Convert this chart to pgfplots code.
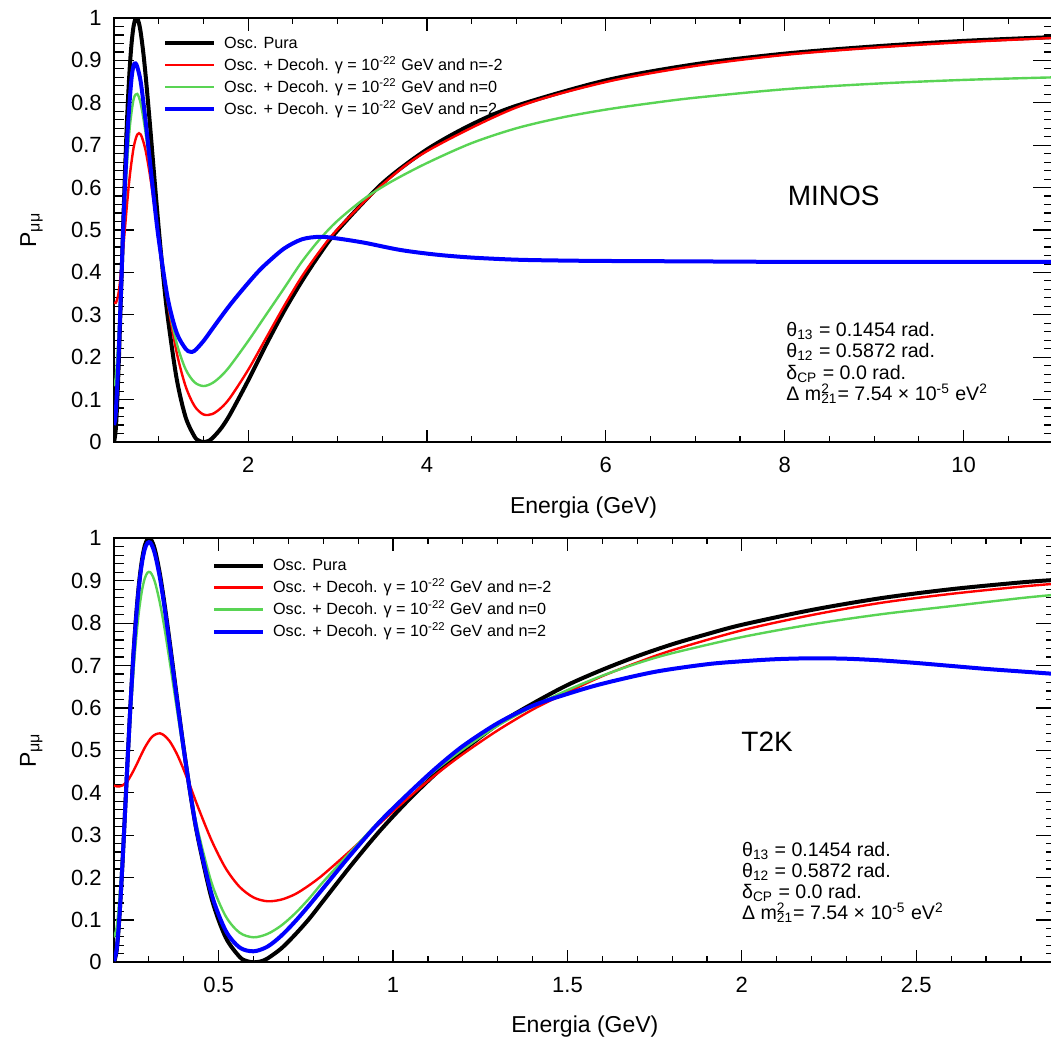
\documentclass[border=0pt]{standalone}
\usepackage{fontspec}
\setmainfont{Liberation Sans}
\usepackage{pgfplots}
\pgfplotsset{compat=1.18}
\definecolor{rootgreen}{RGB}{89,212,84}
\pgfplotsset{rootstyle/.style={
  scale only axis,
  axis line style={line width=0.9pt},
  tick align=inside,
  xtick pos=both, ytick pos=both,
  ymin=0, ymax=1,
  ytick={0,0.1,0.2,0.3,0.4,0.5,0.6,0.7,0.8,0.9,1},
  yticklabels={0,0.1,0.2,0.3,0.4,0.5,0.6,0.7,0.8,0.9,1},
  minor ytick={0,0.02,...,1},
  tick style={line width=0.6pt, black},
  xtick style={/pgfplots/major tick length=6.25pt,/pgfplots/minor tick length=3pt},
  ytick style={/pgfplots/major tick length=10pt,/pgfplots/minor tick length=4.75pt},
  /pgf/number format/assume math mode=true,
  ticklabel style={font=\fontsize{11}{13}\selectfont},
  xticklabel style={anchor=north, inner sep=0pt, yshift=-7.35pt},
  yticklabel style={anchor=east, inner sep=0pt, xshift=-6pt},
  xlabel style={font=\fontsize{11.5}{13}\selectfont, anchor=base, inner sep=0pt},
  ylabel style={font=\fontsize{11.5}{13}\selectfont, anchor=base, inner sep=0pt},
  legend cell align=left,
  legend image code/.code={\draw[#1] (0pt,0pt) -- (24.5pt,0pt);},
  every axis plot/.append style={smooth},
}}
\begin{document}
\begin{tikzpicture}
% ---------------- MINOS ----------------
\begin{axis}[rootstyle,
  at={(57pt,-221pt)}, anchor=south west,
  width=469.5pt, height=212pt,
  xmin=0.5, xmax=11,
  xtick={2,4,6,8,10},
  minor xtick={0.5,1,...,11},
  xlabel={Energia (GeV)},
  ylabel={P\textsubscript{μμ}},
  xlabel style={at={(axis description cs:0.5,-0.1675)}},
  ylabel style={at={(axis description cs:-0.083,0.5)}},
  legend style={at={(0.052,0.963)}, anchor=north west, draw=none, fill=none,
    inner sep=0pt, row sep=2pt, column sep=4pt,
    font=\fontsize{8.1}{9}\selectfont,
    nodes={inner sep=0pt, text height=7pt, text depth=2pt}},
]
\addplot[black, line width=2pt] table {
0.50 0.000
0.52 0.030
0.54 0.113
0.56 0.229
0.58 0.361
0.60 0.494
0.62 0.619
0.64 0.731
0.66 0.823
0.68 0.896
0.70 0.948
0.72 0.982
0.74 0.998
0.76 0.999
0.78 0.987
0.80 0.964
0.83 0.914
0.86 0.850
0.90 0.754
0.95 0.627
1.00 0.504
1.05 0.392
1.10 0.296
1.20 0.150
1.30 0.059
1.40 0.013
1.45 0.003
1.50 0.000
1.55 0.002
1.60 0.009
1.70 0.033
1.80 0.066
2.00 0.145
2.20 0.229
2.40 0.308
2.60 0.379
2.80 0.443
3.00 0.499
3.50 0.610
4.00 0.690
4.50 0.749
5.00 0.793
6.00 0.853
7.00 0.891
8.00 0.916
9.00 0.933
10.0 0.946
11.0 0.955
};
\addlegendentry{Osc. Pura}
\addplot[red, line width=1.2pt] table {
0.50 0.330
0.52 0.328
0.55 0.350
0.58 0.404
0.60 0.449
0.62 0.498
0.65 0.571
0.68 0.634
0.72 0.695
0.76 0.725
0.80 0.725
0.85 0.691
0.90 0.632
0.95 0.558
1.00 0.479
1.10 0.330
1.20 0.212
1.30 0.132
1.40 0.085
1.50 0.065
1.60 0.066
1.70 0.081
1.80 0.105
2.00 0.170
2.20 0.245
2.40 0.320
2.60 0.390
2.80 0.450
3.00 0.502
3.50 0.607
4.00 0.686
5.00 0.789
6.00 0.849
7.00 0.887
8.00 0.913
9.00 0.930
10.0 0.943
11.0 0.953
};
\addlegendentry{Osc. + Decoh. γ = 10\textsuperscript{-22} GeV and n=-2}
\addplot[rootgreen, line width=1.2pt] table {
0.50 0.132
0.52 0.153
0.55 0.247
0.58 0.380
0.60 0.472
0.62 0.559
0.65 0.670
0.68 0.750
0.72 0.809
0.76 0.821
0.80 0.797
0.85 0.734
0.90 0.652
0.95 0.564
1.00 0.479
1.10 0.335
1.20 0.234
1.30 0.172
1.40 0.141
1.50 0.132
1.60 0.139
1.70 0.156
1.80 0.180
2.00 0.238
2.20 0.300
2.40 0.362
2.60 0.425
2.80 0.478
3.00 0.522
3.30 0.574
3.60 0.614
4.00 0.658
4.50 0.705
5.00 0.740
5.50 0.765
6.00 0.784
6.50 0.799
7.00 0.812
8.00 0.832
9.00 0.845
10.0 0.854
11.0 0.860
};
\addlegendentry{Osc. + Decoh. γ = 10\textsuperscript{-22} GeV and n=0}
\addplot[blue, line width=2pt] table {
0.50 0.040
0.52 0.070
0.55 0.196
0.58 0.368
0.60 0.485
0.62 0.592
0.65 0.725
0.68 0.818
0.70 0.865
0.72 0.889
0.74 0.893
0.76 0.885
0.80 0.848
0.85 0.763
0.90 0.665
0.95 0.567
1.00 0.478
1.10 0.340
1.20 0.258
1.30 0.220
1.35 0.213
1.40 0.215
1.50 0.238
1.60 0.267
1.70 0.296
1.80 0.324
1.90 0.350
2.00 0.375
2.10 0.399
2.20 0.420
2.40 0.456
2.60 0.478
2.80 0.484
3.00 0.480
3.30 0.470
3.70 0.453
4.10 0.442
4.50 0.435
5.00 0.430
5.50 0.428
6.00 0.427
7.00 0.426
8.00 0.425
11.0 0.425
};
\addlegendentry{Osc. + Decoh. γ = 10\textsuperscript{-22} GeV and n=2}
\end{axis}
% ---------------- T2K ----------------
\begin{axis}[rootstyle,
  at={(57pt,-481.15pt)}, anchor=south west,
  width=470.9pt, height=212pt,
  xmin=0.2, xmax=2.9,
  xtick={0.5,1,1.5,2,2.5},
  minor xtick={0.2,0.3,...,2.9},
  xlabel={Energia (GeV)},
  ylabel={P\textsubscript{μμ}},
  xlabel style={at={(axis description cs:0.5,-0.1667)}},
  ylabel style={at={(axis description cs:-0.083,0.5)}},
  legend style={at={(0.1037,0.958)}, anchor=north west, draw=none, fill=none,
    inner sep=0pt, row sep=2pt, column sep=4pt,
    font=\fontsize{8.1}{9}\selectfont,
    nodes={inner sep=0pt, text height=7pt, text depth=2pt}},
]
\addplot[black, line width=2pt] table {
0.200 0.000
0.208 0.030
0.216 0.113
0.224 0.229
0.232 0.361
0.240 0.494
0.248 0.619
0.256 0.731
0.264 0.823
0.272 0.896
0.280 0.948
0.288 0.982
0.296 0.998
0.304 0.999
0.312 0.987
0.320 0.964
0.332 0.914
0.344 0.850
0.360 0.754
0.380 0.627
0.400 0.504
0.420 0.392
0.440 0.296
0.480 0.150
0.520 0.059
0.560 0.013
0.580 0.003
0.600 0.000
0.620 0.002
0.640 0.009
0.680 0.033
0.720 0.066
0.760 0.103
0.800 0.145
0.880 0.229
0.960 0.308
1.040 0.379
1.120 0.443
1.200 0.499
1.300 0.561
1.400 0.610
1.500 0.654
1.600 0.690
1.700 0.722
1.800 0.750
1.900 0.774
2.000 0.796
2.200 0.831
2.400 0.859
2.600 0.880
2.800 0.896
2.900 0.902
};
\addlegendentry{Osc. Pura}
\addplot[red, line width=1.2pt] table {
0.200 0.417
0.208 0.415
0.216 0.415
0.224 0.417
0.232 0.422
0.240 0.429
0.248 0.440
0.256 0.452
0.264 0.465
0.272 0.479
0.280 0.493
0.288 0.506
0.296 0.517
0.304 0.527
0.312 0.534
0.320 0.538
0.332 0.540
0.344 0.535
0.360 0.521
0.380 0.492
0.400 0.454
0.420 0.412
0.440 0.368
0.480 0.287
0.520 0.222
0.560 0.178
0.600 0.153
0.640 0.144
0.680 0.148
0.720 0.161
0.760 0.182
0.800 0.207
0.880 0.265
0.960 0.326
1.040 0.385
1.120 0.441
1.200 0.491
1.300 0.547
1.400 0.596
1.500 0.637
1.600 0.675
1.700 0.707
1.800 0.736
2.000 0.783
2.200 0.819
2.400 0.848
2.600 0.869
2.800 0.886
2.900 0.893
};
\addlegendentry{Osc. + Decoh. γ = 10\textsuperscript{-22} GeV and n=-2}
\addplot[rootgreen, line width=1.2pt] table {
0.200 0.059
0.208 0.085
0.216 0.156
0.224 0.255
0.232 0.369
0.240 0.484
0.248 0.593
0.256 0.689
0.264 0.768
0.272 0.831
0.280 0.876
0.288 0.905
0.296 0.919
0.304 0.920
0.312 0.909
0.320 0.889
0.332 0.846
0.344 0.792
0.360 0.708
0.380 0.599
0.400 0.493
0.420 0.397
0.440 0.313
0.480 0.187
0.520 0.109
0.560 0.070
0.600 0.059
0.640 0.067
0.680 0.087
0.720 0.116
0.760 0.151
0.800 0.190
0.880 0.262
0.960 0.332
1.040 0.395
1.120 0.452
1.200 0.502
1.300 0.558
1.400 0.603
1.500 0.642
1.600 0.676
1.700 0.705
1.800 0.729
2.000 0.767
2.200 0.797
2.400 0.821
2.600 0.840
2.800 0.859
2.900 0.867
};
\addlegendentry{Osc. + Decoh. γ = 10\textsuperscript{-22} GeV and n=0}
\addplot[blue, line width=2pt] table {
0.200 0.003
0.208 0.033
0.216 0.115
0.224 0.230
0.232 0.360
0.240 0.493
0.248 0.617
0.256 0.727
0.264 0.818
0.272 0.890
0.280 0.941
0.288 0.974
0.296 0.989
0.304 0.990
0.312 0.977
0.320 0.954
0.332 0.905
0.344 0.842
0.360 0.746
0.380 0.622
0.400 0.502
0.420 0.393
0.440 0.299
0.480 0.160
0.520 0.075
0.560 0.035
0.600 0.026
0.640 0.037
0.680 0.063
0.720 0.097
0.760 0.135
0.800 0.175
0.880 0.255
0.960 0.330
1.040 0.395
1.120 0.456
1.200 0.510
1.300 0.564
1.400 0.605
1.500 0.633
1.600 0.657
1.750 0.685
1.900 0.703
2.000 0.710
2.100 0.715
2.200 0.717
2.300 0.716
2.400 0.712
2.500 0.706
2.600 0.699
2.700 0.692
2.800 0.686
2.900 0.680
};
\addlegendentry{Osc. + Decoh. γ = 10\textsuperscript{-22} GeV and n=2}
\end{axis}
% ---------------- annotations ----------------
\node[anchor=base west, inner sep=0pt, font=\fontsize{14}{16}\selectfont] at (393.7pt,-102.5pt) {MINOS};
\node[anchor=base west, inner sep=0pt, font=\fontsize{14}{16}\selectfont] at (370.5pt,-375.5pt) {T2K};
\begin{scope}[every node/.style={anchor=base west, inner sep=0pt, font=\fontsize{9.8}{11}\selectfont}]
\node at (393pt,-168.35pt) {θ\textsubscript{13} = 0.1454 rad.};
\node at (393pt,-178.85pt) {θ\textsubscript{12} = 0.5872 rad.};
\node at (393pt,-189.5pt) {δ\textsubscript{CP} = 0.0 rad.};
\node at (393pt,-200.35pt) {Δ m\rlap{\textsuperscript{2}}\textsubscript{21}= 7.54 × 10\textsuperscript{-5} eV\textsuperscript{2}};
\node at (370.85pt,-428pt) {θ\textsubscript{13} = 0.1454 rad.};
\node at (370.85pt,-438.65pt) {θ\textsubscript{12} = 0.5872 rad.};
\node at (370.85pt,-449.15pt) {δ\textsubscript{CP} = 0.0 rad.};
\node at (370.85pt,-459.65pt) {Δ m\rlap{\textsuperscript{2}}\textsubscript{21}= 7.54 × 10\textsuperscript{-5} eV\textsuperscript{2}};
\end{scope}
\pgfresetboundingbox
\path[use as bounding box] (0pt,0pt) rectangle (525.5pt,-520.5pt);
\end{tikzpicture}
\end{document}
